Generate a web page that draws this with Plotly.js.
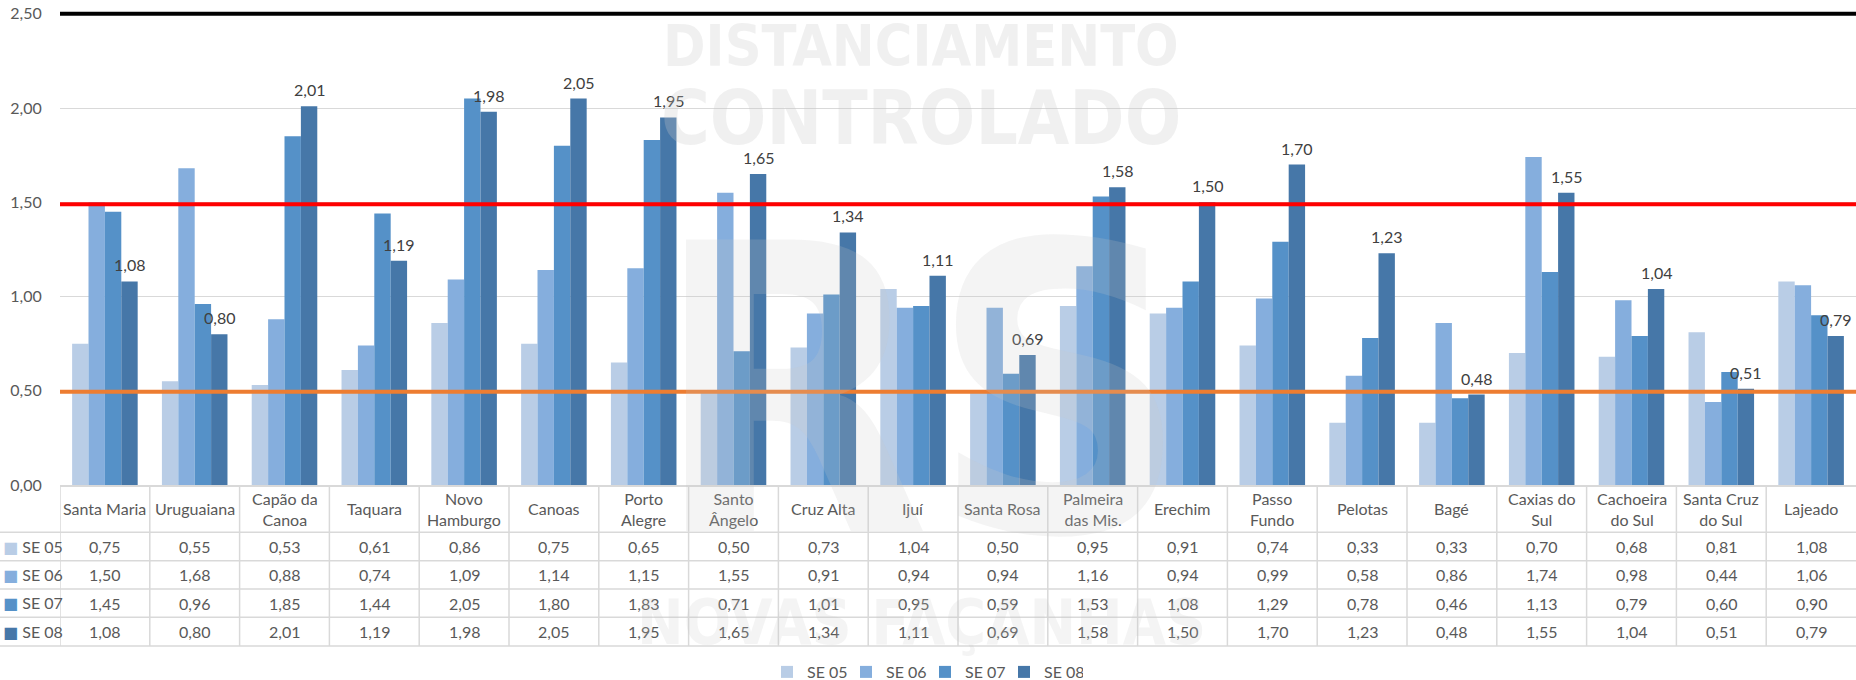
<!DOCTYPE html>
<html><head><meta charset="utf-8">
<script src="https://cdn.plot.ly/plotly-3.0.1.min.js"></script>
<style>html,body{margin:0;padding:0;background:#fff}#chart{width:1856px;height:680px}</style>
</head><body><div id="chart"></div>
<script>
const categories = ['Santa Maria','Uruguaiana','Capão da<br>Canoa','Taquara','Novo<br>Hamburgo','Canoas','Porto<br>Alegre','Santo<br>Ângelo','Cruz Alta','Ijuí','Santa Rosa','Palmeira<br>das Mis.','Erechim','Passo<br>Fundo','Pelotas','Bagé','Caxias do<br>Sul','Cachoeira<br>do Sul','Santa Cruz<br>do Sul','Lajeado'];
const seriesNames = ['SE 05','SE 06','SE 07','SE 08'];
const se05 = [0.75,0.55,0.53,0.61,0.86,0.75,0.65,0.50,0.73,1.04,0.50,0.95,0.91,0.74,0.33,0.33,0.70,0.68,0.81,1.08];
const se06 = [1.50,1.68,0.88,0.74,1.09,1.14,1.15,1.55,0.91,0.94,0.94,1.16,0.94,0.99,0.58,0.86,1.74,0.98,0.44,1.06];
const se07 = [1.45,0.96,1.85,1.44,2.05,1.80,1.83,0.71,1.01,0.95,0.59,1.53,1.08,1.29,0.78,0.46,1.13,0.79,0.60,0.90];
const se08 = [1.08,0.80,2.01,1.19,1.98,2.05,1.95,1.65,1.34,1.11,0.69,1.58,1.50,1.70,1.23,0.48,1.55,1.04,0.51,0.79];
const seriesColors = ['#b9cde6','#85aedd','#5591c8','#4677a8'];
const refValues = [2.5, 1.49, 0.495];
const refColors = ['#000000','#ff0000','#ed7d31'];
const yTicks = [0,0.5,1,1.5,2,2.5];
const watermarkTexts = ['DISTANCIAMENTO','CONTROLADO','RS','NOVAS FAÇANHAS'];

const W=1856,H=680,ML=60,MR=0,MT=10,MB=195;
const plotW=W-ML-MR, plotH=H-MT-MB;
const BARGAP=0.27;
const FONT="Lato, 'Open Sans', sans-serif";
const TXT='#595959';
const fmt=v=>v.toFixed(2).replace('.',',');
const pyp=p=>(H-MB-p)/plotH;   // pixel row -> paper y
const pxp=p=>(p-ML)/plotW;     // pixel col -> paper x
const series=[se05,se06,se07,se08];

const traces=series.map((vals,i)=>({
  type:'bar',name:seriesNames[i],x:categories,y:vals,
  marker:{color:seriesColors[i],line:{width:0}},hoverinfo:'skip'
}));

const annotations=[];
const shapes=[];

// data labels on last series
const catW=plotW/categories.length;
const barW=catW*(1-BARGAP)/series.length;
se08.forEach((v,i)=>{
  annotations.push({xref:'x',yref:'y',x:categories[i],y:v,text:fmt(v),showarrow:false,
    xanchor:'center',yanchor:'bottom',xshift:1.5*barW,yshift:5,
    font:{family:FONT,size:16,color:'#404040'}});
});

// data table
const rowEdges=[485,532.3,560.7,589,617.3,646];
categories.forEach((c,i)=>{
  annotations.push({xref:'x',yref:'paper',x:c,y:pyp((rowEdges[0]+rowEdges[1])/2),text:c,showarrow:false,
    xanchor:'center',yanchor:'middle',font:{family:FONT,size:16,color:TXT}});
  series.forEach((vals,s)=>{
    annotations.push({xref:'x',yref:'paper',x:c,y:pyp((rowEdges[s+1]+rowEdges[s+2])/2),text:fmt(vals[i]),showarrow:false,
      xanchor:'center',yanchor:'middle',font:{family:FONT,size:16,color:TXT}});
  });
});
seriesNames.forEach((n,s)=>{
  annotations.push({xref:'paper',yref:'paper',x:pxp(1),y:pyp((rowEdges[s+1]+rowEdges[s+2])/2),
    text:`<span style="color:${seriesColors[s]};font-family:'DejaVu Sans'">■</span> ${n}`,showarrow:false,
    xanchor:'left',yanchor:'middle',font:{family:FONT,size:16,color:TXT}});
});
const tl={color:'#d9d9d9',width:1.5};
rowEdges.slice(1).forEach(p=>{
  shapes.push({type:'line',xref:'paper',yref:'paper',x0:pxp(0),x1:1,y0:pyp(p),y1:pyp(p),line:tl,layer:'below'});
});
for(let i=0;i<categories.length;i++){
  shapes.push({type:'line',xref:'x',yref:'paper',x0:i-0.5,x1:i-0.5,y0:pyp(rowEdges[0]),y1:pyp(rowEdges[rowEdges.length-1]),line:tl,layer:'below'});
}

// reference lines
refValues.forEach((v,i)=>{
  shapes.push({type:'line',xref:'paper',yref:'y',x0:0,x1:1,y0:v,y1:v,line:{color:refColors[i],width:4},layer:'above'});
});

// watermark
const wm='rgba(200,200,200,0.28)';
const wm2='rgba(200,200,200,0.2)';
const wmFont="'DejaVu Sans Condensed', 'DejaVu Sans', sans-serif";
annotations.push({xref:'paper',yref:'paper',x:pxp(921),y:pyp(46),text:'<b>'+watermarkTexts[0]+'</b>',showarrow:false,xanchor:'center',yanchor:'middle',font:{family:wmFont,size:57,color:wm}});
annotations.push({xref:'paper',yref:'paper',x:pxp(921),y:pyp(118),text:'<b>'+watermarkTexts[1]+'</b>',showarrow:false,xanchor:'center',yanchor:'middle',font:{family:wmFont,size:74,color:wm}});
annotations.push({xref:'paper',yref:'paper',x:pxp(921),y:pyp(392),text:'<b>'+watermarkTexts[2]+'</b>',showarrow:false,xanchor:'center',yanchor:'middle',font:{family:wmFont,size:400,color:wm2}});
annotations.push({xref:'paper',yref:'paper',x:pxp(921),y:pyp(622),text:'<b>'+watermarkTexts[3]+'</b>',showarrow:false,xanchor:'center',yanchor:'middle',font:{family:wmFont,size:62,color:wm2}});

const layout={
  width:W,height:H,margin:{l:ML,r:MR,t:MT,b:MB,pad:0,autoexpand:false},
  paper_bgcolor:'#fff',plot_bgcolor:'#fff',
  separators:',.',
  barmode:'group',bargap:BARGAP,bargroupgap:0,
  showlegend:true,
  legend:{orientation:'h',xref:'paper',x:pxp(925),xanchor:'center',yref:'paper',y:pyp(672),yanchor:'middle',
    font:{family:FONT,size:16,color:TXT},itemwidth:30,entrywidth:34,traceorder:'normal'},
  xaxis:{type:'category',range:[-0.5,categories.length-0.5],showticklabels:false,showgrid:false,zeroline:false,
    showline:true,linecolor:'#d9d9d9',linewidth:1.5,ticks:'',fixedrange:true,automargin:false},
  yaxis:{range:[0,2.52],tickvals:yTicks,tickformat:'.2f',showgrid:true,gridcolor:'#d9d9d9',gridwidth:1,
    zeroline:false,showline:false,ticks:'outside',ticklen:14,tickcolor:'rgba(0,0,0,0)',
    tickfont:{family:FONT,size:16,color:TXT},fixedrange:true,automargin:false},
  annotations:annotations,shapes:shapes,
  font:{family:FONT}
};
Plotly.newPlot('chart',traces,layout,{displayModeBar:false,staticPlot:true});
</script></body></html>
